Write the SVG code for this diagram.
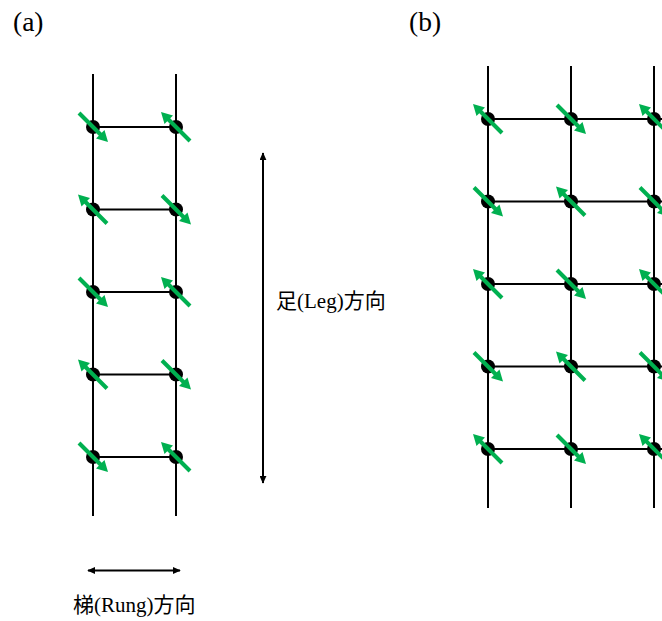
<svg xmlns="http://www.w3.org/2000/svg" xmlns:xlink="http://www.w3.org/1999/xlink" width="662" height="621" viewBox="0 0 662 621">
<style>
.ln{stroke:#000;stroke-width:2;fill:none}
.dot{fill:#000}
.lbl{font-family:"Liberation Serif","Noto Sans CJK JP",serif;fill:#000}
</style>
<defs>
<g id="dr">
<line x1="-14" y1="-14" x2="9" y2="9" stroke="#00B050" stroke-width="4"/>
<polygon points="15,15 11.5,3 3,11.5" fill="#00B050"/>
</g>
<marker id="ah" viewBox="0 0 10 10" refX="9" refY="5" markerWidth="8" markerHeight="7" markerUnits="userSpaceOnUse" orient="auto-start-reverse" preserveAspectRatio="none">
<path d="M0,0 L10,5 L0,10 z" fill="#000"/>
</marker>
</defs>
<rect width="662" height="621" fill="#fff"/>

<text class="lbl" x="13" y="31" font-size="27.5">(a)</text>
<text class="lbl" x="409" y="31" font-size="27.5">(b)</text>

<g id="connectors">
<!-- panel a legs -->
<line class="ln" x1="93" y1="74" x2="93" y2="516"/>
<line class="ln" x1="176" y1="74" x2="176" y2="516"/>
<!-- panel a rungs -->
<line class="ln" x1="93" y1="127" x2="176" y2="127"/>
<line class="ln" x1="93" y1="209.5" x2="176" y2="209.5"/>
<line class="ln" x1="93" y1="292" x2="176" y2="292"/>
<line class="ln" x1="93" y1="374.5" x2="176" y2="374.5"/>
<line class="ln" x1="93" y1="457" x2="176" y2="457"/>
<!-- panel b verticals -->
<line class="ln" x1="488" y1="66" x2="488" y2="508"/>
<line class="ln" x1="571" y1="66" x2="571" y2="508"/>
<line class="ln" x1="654" y1="66" x2="654" y2="508"/>
<!-- panel b horizontals -->
<line class="ln" x1="488" y1="119" x2="662" y2="119"/>
<line class="ln" x1="488" y1="201.5" x2="662" y2="201.5"/>
<line class="ln" x1="488" y1="284" x2="662" y2="284"/>
<line class="ln" x1="488" y1="366.5" x2="662" y2="366.5"/>
<line class="ln" x1="488" y1="449" x2="662" y2="449"/>
<!-- direction arrows -->
<line class="ln" x1="263" y1="153" x2="263" y2="483" marker-start="url(#ah)" marker-end="url(#ah)"/>
<line class="ln" x1="88" y1="570.5" x2="180" y2="570.5" marker-start="url(#ah)" marker-end="url(#ah)"/>
</g>

<g id="a-sites">
<g id="a-L1"><circle class="dot" cx="93" cy="127" r="7"/><use xlink:href="#dr" transform="translate(93,127)"/></g>
<g id="a-R1"><circle class="dot" cx="176" cy="127" r="7"/><use xlink:href="#dr" transform="translate(176,127) rotate(180)"/></g>
<g id="a-L2"><circle class="dot" cx="93" cy="209.5" r="7"/><use xlink:href="#dr" transform="translate(93,209.5) rotate(180)"/></g>
<g id="a-R2"><circle class="dot" cx="176" cy="209.5" r="7"/><use xlink:href="#dr" transform="translate(176,209.5)"/></g>
<g id="a-L3"><circle class="dot" cx="93" cy="292" r="7"/><use xlink:href="#dr" transform="translate(93,292)"/></g>
<g id="a-R3"><circle class="dot" cx="176" cy="292" r="7"/><use xlink:href="#dr" transform="translate(176,292) rotate(180)"/></g>
<g id="a-L4"><circle class="dot" cx="93" cy="374.5" r="7"/><use xlink:href="#dr" transform="translate(93,374.5) rotate(180)"/></g>
<g id="a-R4"><circle class="dot" cx="176" cy="374.5" r="7"/><use xlink:href="#dr" transform="translate(176,374.5)"/></g>
<g id="a-L5"><circle class="dot" cx="93" cy="457" r="7"/><use xlink:href="#dr" transform="translate(93,457)"/></g>
<g id="a-R5"><circle class="dot" cx="176" cy="457" r="7"/><use xlink:href="#dr" transform="translate(176,457) rotate(180)"/></g>
</g>

<g id="b-sites">
<g id="b-11"><circle class="dot" cx="488" cy="119" r="7"/><use xlink:href="#dr" transform="translate(488,119) rotate(180)"/></g>
<g id="b-12"><circle class="dot" cx="571" cy="119" r="7"/><use xlink:href="#dr" transform="translate(571,119)"/></g>
<g id="b-13"><circle class="dot" cx="654" cy="119" r="7"/><use xlink:href="#dr" transform="translate(654,119) rotate(180)"/></g>
<g id="b-21"><circle class="dot" cx="488" cy="201.5" r="7"/><use xlink:href="#dr" transform="translate(488,201.5)"/></g>
<g id="b-22"><circle class="dot" cx="571" cy="201.5" r="7"/><use xlink:href="#dr" transform="translate(571,201.5) rotate(180)"/></g>
<g id="b-23"><circle class="dot" cx="654" cy="201.5" r="7"/><use xlink:href="#dr" transform="translate(654,201.5)"/></g>
<g id="b-31"><circle class="dot" cx="488" cy="284" r="7"/><use xlink:href="#dr" transform="translate(488,284) rotate(180)"/></g>
<g id="b-32"><circle class="dot" cx="571" cy="284" r="7"/><use xlink:href="#dr" transform="translate(571,284)"/></g>
<g id="b-33"><circle class="dot" cx="654" cy="284" r="7"/><use xlink:href="#dr" transform="translate(654,284) rotate(180)"/></g>
<g id="b-41"><circle class="dot" cx="488" cy="366.5" r="7"/><use xlink:href="#dr" transform="translate(488,366.5)"/></g>
<g id="b-42"><circle class="dot" cx="571" cy="366.5" r="7"/><use xlink:href="#dr" transform="translate(571,366.5) rotate(180)"/></g>
<g id="b-43"><circle class="dot" cx="654" cy="366.5" r="7"/><use xlink:href="#dr" transform="translate(654,366.5)"/></g>
<g id="b-51"><circle class="dot" cx="488" cy="449" r="7"/><use xlink:href="#dr" transform="translate(488,449) rotate(180)"/></g>
<g id="b-52"><circle class="dot" cx="571" cy="449" r="7"/><use xlink:href="#dr" transform="translate(571,449)"/></g>
<g id="b-53"><circle class="dot" cx="654" cy="449" r="7"/><use xlink:href="#dr" transform="translate(654,449) rotate(180)"/></g>
</g>

<g id="leg-label"><text class="lbl" x="276" y="308" font-size="21">足(Leg)方向</text></g>
<g id="rung-label"><text class="lbl" x="73" y="612" font-size="21">梯(Rung)方向</text></g>
</svg>
